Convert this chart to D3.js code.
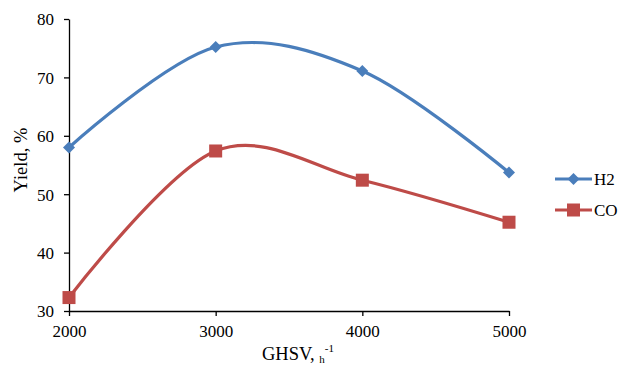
<!DOCTYPE html>
<html>
<head>
<meta charset="utf-8">
<script src="https://cdn.jsdelivr.net/npm/d3@7"></script>
<style>
  body { margin: 0; background: #fff; }
  text { font-family: "Liberation Serif", "Times New Roman", serif; fill: #000; }
</style>
</head>
<body>
<div id="chart"></div>
<script>
var ghsv = [2000, 3000, 4000, 5000];
var h2 = [58, 75.2, 71.1, 53.7];
var co = [32.3, 57.4, 52.4, 45.2];
var yTicks = [30, 40, 50, 60, 70, 80];

var width = 622, height = 367;
var margin = {top: 19, right: 113, bottom: 56, left: 69};

var svg = d3.select("#chart")
  .append("svg")
    .attr("width", width)
    .attr("height", height);

// Set the ranges
var x = d3.scaleLinear().domain([2000, 5000]).range([margin.left, width - margin.right]);
var y = d3.scaleLinear().domain([30, 80]).range([height - margin.bottom, margin.top]);

// Axes
var xAxis = d3.axisBottom(x).tickValues(ghsv).tickFormat(d3.format("d")).tickSize(5).tickSizeOuter(0);
var yAxis = d3.axisLeft(y).tickValues(yTicks).tickSize(5).tickSizeOuter(0);

var gx = svg.append("g")
    .attr("transform", "translate(0," + y(30) + ")")
    .call(xAxis);
var gy = svg.append("g")
    .attr("transform", "translate(" + x(2000) + ",0)")
    .call(yAxis);

[gx, gy].forEach(function(g) {
  g.attr("font-family", null).attr("font-size", null);
  g.select(".domain").attr("stroke", "#000").attr("stroke-width", 1.3);
  g.selectAll(".tick line").attr("stroke", "#000").attr("stroke-width", 1.3);
  g.selectAll(".tick text")
    .style("font-size", "17px")
    .attr("fill", "#000");
});
gx.selectAll(".tick text").attr("y", 0).attr("dy", 26);
gy.selectAll(".tick text").attr("x", -15).attr("dy", "0.35em");

// Axis titles
svg.append("text")
    .attr("transform", "translate(27,160) rotate(-90)")
    .attr("text-anchor", "middle")
    .style("font-size", "18.5px")
    .text("Yield, %");

var xt = svg.append("text")
    .attr("x", 262)
    .attr("y", 360)
    .style("font-size", "18.5px");
xt.append("tspan").text("GHSV, ");
xt.append("tspan").attr("dy", 3).style("font-size", "11px").text("h");
xt.append("tspan").attr("dy", -11).style("font-size", "11px").text("-1");

// Define the line
var line = d3.line()
  .x(function(d) { return x(d[0]); })
  .y(function(d) { return y(d[1]); })
  .curve(d3.curveCatmullRom.alpha(0));

var series = [
  {name: "H2", values: h2, color: "#4A7EBB", marker: "diamond"},
  {name: "CO", values: co, color: "#BE4B48", marker: "square"}
];

function drawMarker(g, kind, color, cx, cy) {
  if (kind === "diamond") {
    var r = 6;
    g.append("path")
      .attr("d", "M" + cx + "," + (cy - r) + "L" + (cx + r) + "," + cy +
                 "L" + cx + "," + (cy + r) + "L" + (cx - r) + "," + cy + "Z")
      .attr("fill", color);
  } else {
    g.append("rect")
      .attr("x", cx - 6.5).attr("y", cy - 6.5)
      .attr("width", 13).attr("height", 13)
      .attr("fill", color);
  }
}

series.forEach(function(s, i) {
  var pts = ghsv.map(function(g, j) { return [g, s.values[j]]; });
  svg.append("path")
    .attr("d", line(pts))
    .attr("fill", "none")
    .attr("stroke", s.color)
    .attr("stroke-width", 3.2);
  var mg = svg.append("g");
  pts.forEach(function(p) { drawMarker(mg, s.marker, s.color, x(p[0]), y(p[1])); });

  // legend
  var ly = 179 + i * 31;
  svg.append("line")
    .attr("x1", 555).attr("x2", 592)
    .attr("y1", ly).attr("y2", ly)
    .attr("stroke", s.color).attr("stroke-width", 3.2);
  drawMarker(svg, s.marker, s.color, 573.5, ly);
  svg.append("text")
    .attr("x", 594).attr("y", ly).attr("dy", "0.35em")
    .style("font-size", "17px")
    .text(s.name);
});
</script>
</body>
</html>
